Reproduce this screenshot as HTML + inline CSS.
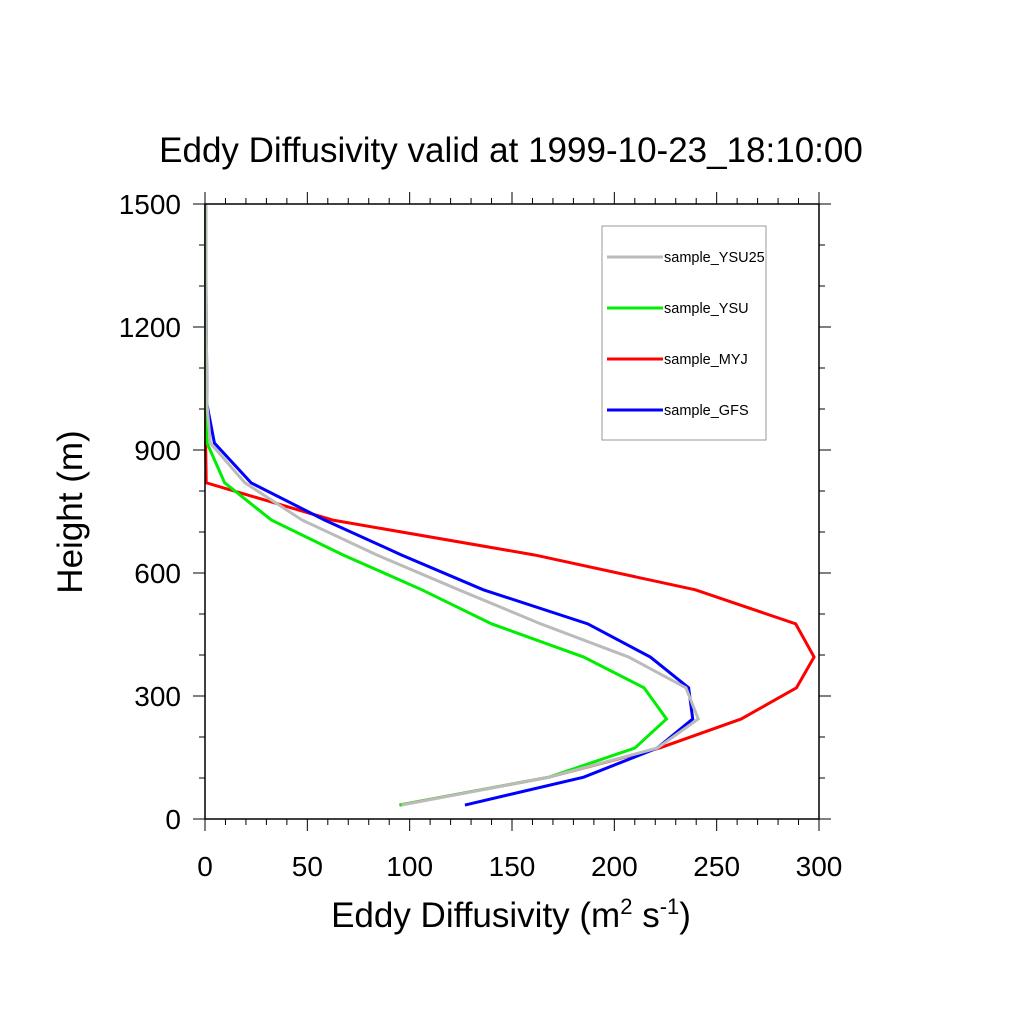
<!DOCTYPE html>
<html><head><meta charset="utf-8"><style>
body{margin:0;background:#fff}
svg text{font-family:"Liberation Sans",Arial,sans-serif}
</style></head><body>
<svg id="chart" width="1024" height="1024" xmlns="http://www.w3.org/2000/svg">
<rect width="1024" height="1024" fill="#fff"/>
<text x="511" y="162" font-size="35" text-anchor="middle">Eddy Diffusivity valid at 1999-10-23_18:10:00</text>
<g id="axes"></g>
<g id="series"></g>
<rect x="205" y="204" width="614" height="615" fill="none" stroke="#000" stroke-width="1.5"/>
<text transform="translate(82,512) rotate(-90)" font-size="35" text-anchor="middle">Height (m)</text>
<text x="511" y="927" font-size="35" text-anchor="middle">Eddy Diffusivity (m<tspan font-size="22" dy="-13">2</tspan><tspan dy="13"> s</tspan><tspan font-size="22" dy="-13">-1</tspan><tspan dy="13">)</tspan></text>
<g>
<rect x="602" y="226" width="164" height="214" fill="#fff" stroke="#999" stroke-width="1"/>
</g>
</svg>
<script>
const heights=[34,102,173,244,320,395,476,559,644,729,820,917,1010,1110,1210,1310,1410,1500];
const ysu25=[96,168,221,241,235,207,164,124,84,47.5,19.5,2.6,1,0.8,0.6,0.5,0.5,0.5];
const ysu=[95,168,210,225.5,214.5,185,140,106,67.5,32.5,9.6,1,0.3,0.3,0.3,0.3,0.3,0.3];
const myj=[95,168,222,262,289,297.6,288.6,239.6,161,62.5,0.6,0.3,0.3,0.3,0.3,0.3,0.3,0.3];
const gfs=[127,185,221,238.3,236.3,217.6,187,136,96,58.5,22.5,4.6,1,0.8,0.6,0.5,0.5,0.5];
const xTicks=[0,50,100,150,200,250,300];
const yTicks=[0,300,600,900,1200,1500];
const seriesNames=["sample_YSU25","sample_YSU","sample_MYJ","sample_GFS"];
const seriesColors=["#bbbbbb","#00ee00","#ff0000","#0000ff"];
const NS="http://www.w3.org/2000/svg";
const X=v=>205+v*614/300, Y=h=>819-h*615/1500;
const ax=document.getElementById('axes'), sg=document.getElementById('series'), svg=document.getElementById('chart');
function mk(t,a,p){const e=document.createElementNS(NS,t);for(const k in a)e.setAttribute(k,a[k]);p.appendChild(e);return e;}
for(let v=0;v<=300;v+=10){const maj=v%50===0,L=maj?12:6;
 let t=mk('line',{x1:X(v),x2:X(v),y1:819,y2:819+L,stroke:'#000','stroke-width':1},ax);
 
 
 t=mk('line',{x1:X(v),x2:X(v),y1:204,y2:204-L,stroke:'#000','stroke-width':1},ax);
 
 }
for(let h=0;h<=1500;h+=100){const maj=h%300===0,L=maj?12:6;
 let t=mk('line',{x1:205,x2:205-L,y1:Y(h),y2:Y(h),stroke:'#000','stroke-width':1},ax);
 
 
 t=mk('line',{x1:819,x2:819+L,y1:Y(h),y2:Y(h),stroke:'#000','stroke-width':1},ax);
 
 }
xTicks.forEach(v=>{const t=mk('text',{x:X(v),y:876,'font-size':28,'text-anchor':'middle'},ax);t.textContent=v;
 
 });
yTicks.forEach(h=>{const t=mk('text',{x:181,y:Y(h)+10,'font-size':28,'text-anchor':'end'},ax);t.textContent=h;
 
 });
const allSeries=[ysu25,ysu,myj,gfs];
[2,3,1,0].forEach(i=>{
 const arr=allSeries[i];
 const p=mk('polyline',{points:arr.map((v,j)=>X(v)+','+Y(heights[j])).join(' '),fill:'none',stroke:seriesColors[i],'stroke-width':3,'stroke-linejoin':'miter'},sg);
 
 
});
seriesNames.forEach((n,i)=>{
 const ly=257+i*51;
 const l=mk('line',{x1:607,x2:663,y1:ly,y2:ly,stroke:seriesColors[i],'stroke-width':3},svg);
 
 
 const t=mk('text',{x:664,y:ly+5,'font-size':14.5},svg);t.textContent=n;
 
 
});
</script>
</body></html>
